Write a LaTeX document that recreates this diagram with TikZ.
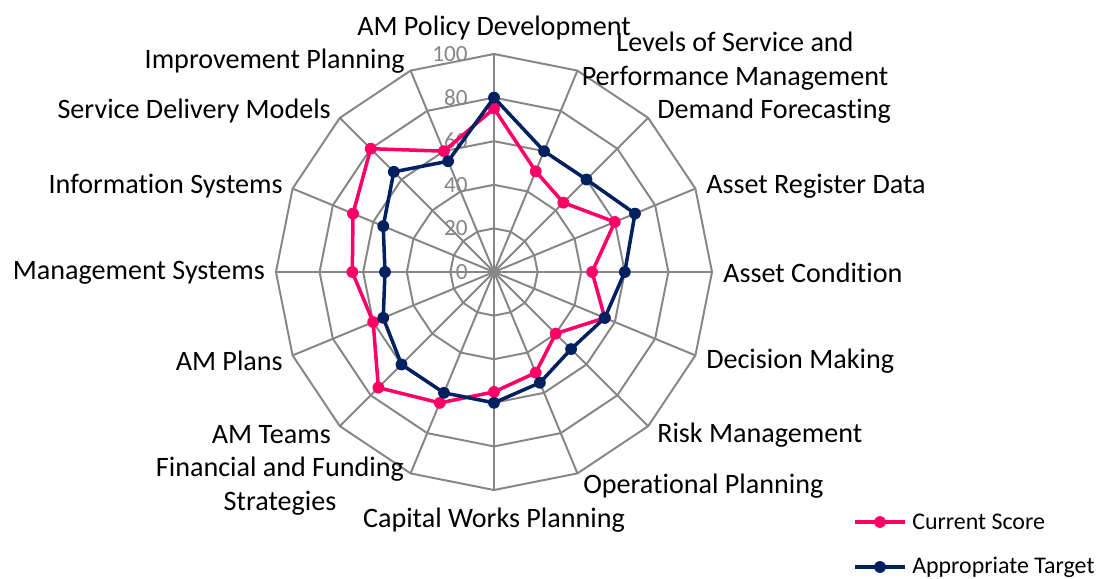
\documentclass[tikz,border=0pt]{standalone}
\usepackage{fontspec}
\setmainfont{Carlito}[RawFeature={-liga;-clig;-calt;-dlig}]
\usetikzlibrary{positioning}

\definecolor{scorepink}{RGB}{255,0,102}
\definecolor{targetnavy}{RGB}{0,32,96}
\definecolor{gridgray}{RGB}{134,134,134}

\begin{document}
\begin{tikzpicture}[x=0.025cm,y=-0.025cm,
    gridline/.style={draw=gridgray,line width=1.4pt},
    ticklabel/.style={anchor=east,inner sep=0pt,text=gridgray,font=\fontsize{16.5}{18}\selectfont},
    axislabel/.style={inner sep=0pt,align=center,font=\fontsize{20}{24}\selectfont},
    scoreline/.style={draw=scorepink,line width=2.5pt,line join=round},
    targetline/.style={draw=targetnavy,line width=2.5pt,line join=round},
    legendtext/.style={anchor=west,inner sep=0pt,font=\fontsize{17}{20}\selectfont}]

  \useasboundingbox (0,0) rectangle (1107,579);

  \begin{scope}[shift={(494,272)}]
    % Mřížka - prstence a paprsky
    \foreach \v in {1,...,5}
      \draw[gridline] (-90:{\v*43.6}) \foreach \k in {1,...,15}{ -- ({\k*22.5-90}:{\v*43.6})} -- cycle;
    \foreach \k in {0,...,15}
      \draw[gridline] (0,0) -- ({\k*22.5-90}:218);

    % Stupnice
    \foreach \v in {0,20,...,100}
      \node[ticklabel] (tick\v) at (-26,{-2.18*\v}) {\v};

    % Current Score
    \foreach \v [count=\k from 0] in {75,50,45,60,45,55,40,50,55,65,75,60,65,70,80,60}
      \coordinate (score\k) at ({\k*22.5-90}:{2.18*\v});
    \draw[scoreline] (score0) \foreach \k in {1,...,15}{ -- (score\k)} -- cycle;
    \foreach \k in {0,...,15}
      \fill[scorepink] (score\k) circle (4.2pt);

    % Appropriate Target
    \foreach \v [count=\k from 0] in {80,60,60,70,60,55,50,55,60,60,60,55,50,55,65,55}
      \coordinate (target\k) at ({\k*22.5-90}:{2.18*\v});
    \draw[targetline] (target0) \foreach \k in {1,...,15}{ -- (target\k)} -- cycle;
    \foreach \k in {0,...,15}
      \fill[targetnavy] (target\k) circle (4.2pt);
  \end{scope}

  % Popisky os
  \node[axislabel] (policy) at (494,28) {AM Policy Development};
  \node[axislabel] (service) at (735,61) {Levels of Service and\\Performance Management};
  \node[axislabel,anchor=west] (demand) at (657,111) {Demand Forecasting};
  \node[axislabel,anchor=west] (register) at (706,186) {Asset Register Data};
  \node[axislabel,anchor=west] (condition) at (723,273) {Asset Condition};
  \node[axislabel,anchor=west] (decision) at (706,361) {Decision Making};
  \node[axislabel,anchor=west] (risk) at (657,435) {Risk Management};
  \node[axislabel,anchor=west] (operational) at (583,486) {Operational Planning};
  \node[axislabel] (capital) at (494,520) {Capital Works Planning};
  \node[axislabel] (financial) at (280,486) {Financial and Funding\\Strategies};
  \node[axislabel,anchor=east] (teams) at (331,435) {AM Teams};
  \node[axislabel,anchor=east] (plans) at (283,361) {AM Plans};
  \node[axislabel,anchor=east] (management) at (265,273) {Management Systems};
  \node[axislabel,anchor=east] (information) at (283,186) {Information Systems};
  \node[axislabel,anchor=east] (delivery) at (331,111) {Service Delivery Models};
  \node[axislabel,anchor=east] (improvement) at (405,61) {Improvement Planning};

  % Legenda
  \coordinate (scoreL) at (855,522);
  \coordinate (scoreR) at (905,522);
  \draw[scoreline] (scoreL) -- (scoreR);
  \fill[scorepink] (880,522) circle (4.2pt);
  \node[legendtext] (scorekey) at (912,522) {Current Score};

  \coordinate (targetL) at (855,567);
  \coordinate (targetR) at (905,567);
  \draw[targetline] (targetL) -- (targetR);
  \fill[targetnavy] (880,567) circle (4.2pt);
  \node[legendtext] (targetkey) at (912,567) {Appropriate Target};
\end{tikzpicture}
\end{document}
